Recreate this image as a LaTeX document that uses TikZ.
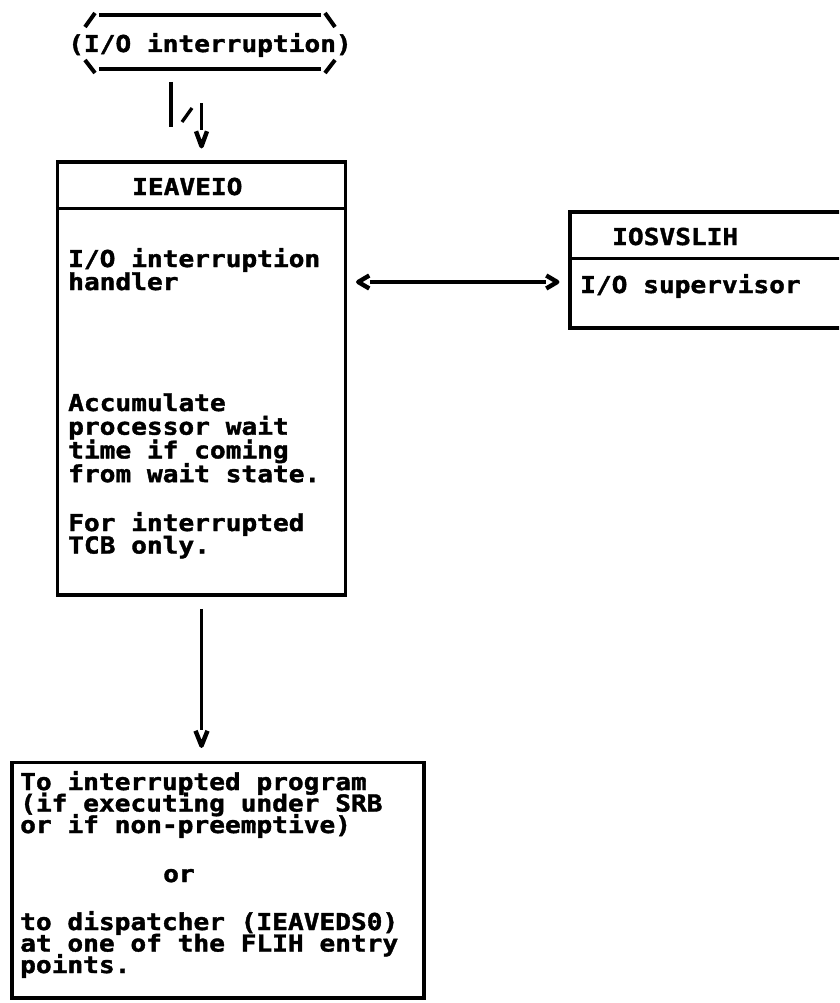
\documentclass[tikz,border=0pt]{standalone}
\usepackage{fontspec}
\newfontfamily\chartfont{DejaVu Sans Mono}[FakeStretch=1.123, FakeBold=1.6]
\usetikzlibrary{calc}

% stacked left-aligned lines with a fixed baseline pitch; baseline = first line
\newcommand\textlines[2]{\vtop{\baselineskip=#1\lineskiplimit=-\maxdimen
  \let\\\cr\halign{##\hfil\cr#2\crcr}}}

\begin{document}
\begin{tikzpicture}[x=1pt,y=-1pt,
  box/.style={draw, line width=3.5pt, rectangle, inner sep=0pt},
  txt/.style={font=\chartfont\bfseries\fontsize{23.3}{23.3}\selectfont,
    inner sep=0pt, anchor=base west},
  conn/.style={line width=3.3pt},
  termline/.style={line width=4pt},
  tipline/.style={line width=4.4pt, line join=round},
  pics/tiphead/.style 2 args={code={\draw[tipline] (-#2,-#1) -- (0,0) -- (#2,-#1);}}
]
\clip (0,0) rectangle (839,1003);
\fill[white] (0,0) rectangle (839,1003);

% start terminal
\node[txt, anchor=base] (intr) at (210,52) {(I/O interruption)};
\begin{scope}[shift={(intr.base)}]
  \draw[termline] (-125,-25) -- (-115,-39);
  \draw[termline] (-111,-36.5) -- (111,-36.5);
  \draw[termline] (115,-39) -- (125,-25);
  \draw[termline] (-125,8) -- (-115,21);
  \draw[termline] (-111,17.5) -- (111,17.5);
  \draw[termline] (115,21) -- (125,8);
\end{scope}

% IEAVEIO module box
\node[box, minimum width=288pt, minimum height=433pt] (ieaveio) at (201.5,378.5) {};
\draw[line width=3.5pt] ([yshift=-48pt]ieaveio.north west) -- ([yshift=-48pt]ieaveio.north east);
\node[txt] (ieaveioname) at (132,195) {IEAVEIO};
\node[txt] (ieaveiofn) at (68,267) {\textlines{23pt}{I/O interruption\\handler}};
\node[txt] (ieaveiowait) at (68,411) {\textlines{23.7pt}{Accumulate\\processor wait\\time if coming\\from wait state.}};
\node[txt] (ieaveiotcb) at (68,531) {\textlines{22.5pt}{For interrupted\\TCB only.}};

% IOSVSLIH module box (runs off the right edge)
\node[box, minimum width=290pt, minimum height=116pt] (iosv) at (715,270) {};
\draw[line width=3.5pt] ([yshift=-48pt]iosv.north west) -- ([yshift=-48pt]iosv.north east);
\node[txt] (iosvname) at (612,245) {IOSVSLIH};
\node[txt] (iosvtext) at (580,293) {I/O supervisor};

% exit box
\node[box, minimum width=412pt, minimum height=235.5pt] (dest) at (218,880.25) {};
\node[txt] (destprog) at (20,790) {\textlines{21.5pt}{To interrupted program\\(if executing under SRB\\or if non-preemptive)}};
\node[txt] (destor) at (163,882) {or};
\node[txt] (destdisp) at (20,930) {\textlines{21.5pt}{to dispatcher (IEAVEDS0)\\at one of the FLIH entry\\points.}};

% interruption -> IEAVEIO (offset connector)
\coordinate (j1) at ([xshift=-39pt,yshift=-30pt]intr.base);
\coordinate (vt) at ([yshift=14pt]ieaveio.north);
\draw[conn] (j1) -- ++(0,45);
\draw[conn] ([xshift=11pt,yshift=-40pt]j1) -- ++(10,-14);
\draw[conn] ([yshift=43pt]vt) -- ([yshift=16pt]vt);
\pic at (vt) {tiphead={15}{5.5}};

% IEAVEIO <-> IOSVSLIH
\coordinate (ay) at ([yshift=11pt]iosvtext.base);
\coordinate (al) at (ieaveio.east |- ay);
\coordinate (ar) at (iosv.west |- ay);
\draw[conn] ([xshift=22.5pt]al) -- ([xshift=-22.5pt]ar);
\pic[rotate=-90] at ([xshift=11pt]al) {tiphead={11}{6.5}};
\pic[rotate=90] at ([xshift=-11pt]ar) {tiphead={11}{6.5}};

% IEAVEIO -> exit
\coordinate (vb) at (ieaveio.south |- dest.north);
\coordinate (vbapex) at ([yshift=15pt]vb);
\draw[conn] ([yshift=-12pt]ieaveio.south) -- ([yshift=16pt]vbapex);
\pic at (vbapex) {tiphead={15}{6}};
\end{tikzpicture}
\end{document}
